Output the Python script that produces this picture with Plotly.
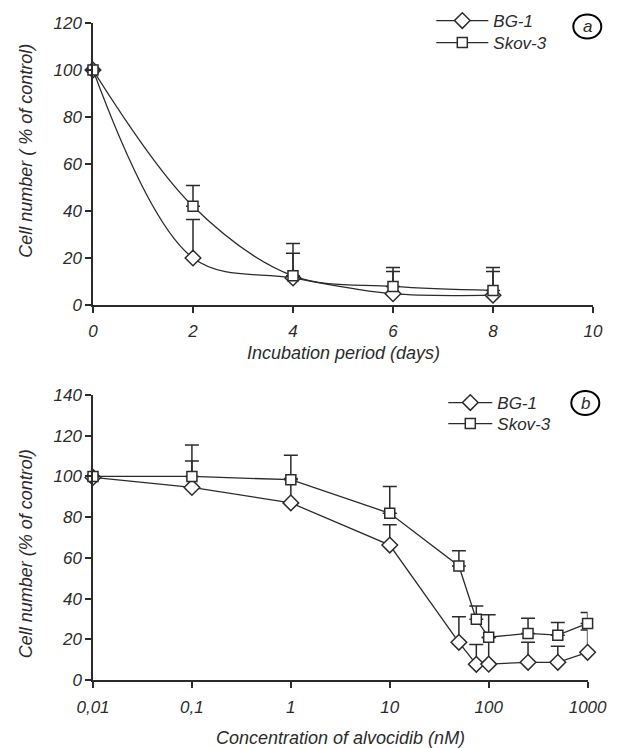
import plotly.graph_objects as go

# ---- data: panel a (incubation period) ----
days = [0, 2, 4, 6, 8]
bg1_a = [100, 20, 11.5, 4.8, 4.2]
bg1_a_err = [0, 16.4, 10.5, 9.5, 10.1]
skov_a = [100, 42, 12.4, 7.9, 6.2]
skov_a_err = [0, 8.8, 13.8, 8.1, 9.8]

# ---- data: panel b (concentration) ----
conc = [0.01, 0.1, 1, 10, 50, 75, 100, 250, 500, 1000]
bg1_b = [99.5, 94.6, 87, 66.3, 18.5, 7.7, 7.8, 8.7, 8.7, 13.6]
bg1_b_err = [0, 13, 12, 10, 12.6, 9.7, 13, 9.8, 7.9, 11]
skov_b = [100, 100, 98.4, 81.9, 56, 29.8, 21, 22.9, 22, 27.8]
skov_b_err = [0, 15.4, 12, 13.2, 7.5, 6.6, 11.1, 7.4, 6.3, 5.4]

xa_ticks = [0, 2, 4, 6, 8, 10]
ya_ticks = [0, 20, 40, 60, 80, 100, 120]
xb_ticks = [0.01, 0.1, 1, 10, 100, 1000]
xb_labels = ["0,01", "0,1", "1", "10", "100", "1000"]
yb_ticks = [0, 20, 40, 60, 80, 100, 120, 140]

titles = {
    "xa": "Incubation period (days)",
    "ya": "Cell number ( % of control)",
    "xb": "Concentration of alvocidib (nM)",
    "yb": "Cell number (% of control)",
}

W, H = 619, 748
L, R, T, B = 92.7, 26.3, 23, 68          # plot-area margins in px
PW, PH = W - L - R, H - T - B

def px(xp):
    return (xp - L) / PW

def py(yp):
    return (H - B - yp) / PH

FONT = "Liberation Sans, Arial, sans-serif"
INK = "#2b2b2b"
tf = dict(family=FONT, size=17, color=INK, style="italic")
ttl = dict(family=FONT, size=18, color=INK, style="italic")

fig = go.Figure()

def add_series(x, y, err, name, symbol, size, xaxis, yaxis, legend, shape):
    fig.add_trace(go.Scatter(
        x=x, y=y, name=name, mode="lines+markers",
        line=dict(color=INK, width=1.3, shape=shape, smoothing=1.0),
        marker=dict(symbol=symbol, size=size, color="white",
                    line=dict(color=INK, width=1.5)),
        error_y=dict(type="data", array=err, arrayminus=[0] * len(err),
                     symmetric=False, color=INK, thickness=1.5, width=7),
        xaxis=xaxis, yaxis=yaxis, legend=legend, cliponaxis=False,
    ))

add_series(days, bg1_a, bg1_a_err, "BG-1", "diamond", 12, "x", "y", "legend", "spline")
add_series(days, skov_a, skov_a_err, "Skov-3", "square", 10, "x", "y", "legend2", "spline")
add_series(conc, bg1_b, bg1_b_err, "BG-1", "diamond", 12, "x2", "y2", "legend3", "linear")
add_series(conc, skov_b, skov_b_err, "Skov-3", "square", 10, "x2", "y2", "legend4", "linear")

axis_common = dict(showline=True, linecolor=INK, linewidth=1.5, ticks="outside",
                   ticklen=6, tickwidth=1.5, tickcolor=INK, showgrid=False,
                   zeroline=False, tickfont=tf, automargin=False)

def leg(xp, yp, iw):
    return dict(x=px(xp), y=py(yp), xanchor="left", yanchor="top",
                bgcolor="rgba(0,0,0,0)", font=tf, itemwidth=iw)

fig.update_layout(
    width=W, height=H,
    margin=dict(l=L, r=R, t=T, b=B, autoexpand=False),
    paper_bgcolor="white", plot_bgcolor="white",
    font=tf,
    xaxis=dict(domain=[0, 1], anchor="y", range=[0, 10],
               tickvals=xa_ticks, ticklabelstandoff=4, **axis_common),
    yaxis=dict(domain=[py(305), 1], anchor="x", range=[0, 120],
               tickvals=ya_ticks, ticklabelstandoff=0, **axis_common),
    xaxis2=dict(domain=[0, px(587.3)], anchor="y2", type="log", range=[-2, 3],
                tickvals=xb_ticks, ticktext=xb_labels, ticklabelstandoff=5,
                **axis_common),
    yaxis2=dict(domain=[0, py(395)], anchor="x2", range=[0, 140],
                tickvals=yb_ticks, ticklabelstandoff=0, **axis_common),
    legend=leg(431, 3, 52),
    legend2=leg(431, 25, 52),
    legend3=leg(443, 385, 44),
    legend4=leg(443, 406, 44),
    showlegend=True,
)

# axis titles placed as text
for key, cx, cy, ang in [("xa", 342.7, 353, 0), ("xb", 340.5, 738, 0),
                         ("ya", 26, 150.5, -90), ("yb", 26, 554, -90)]:
    fig.add_annotation(x=px(cx), y=py(cy), xref="paper", yref="paper",
                       xanchor="center", yanchor="middle", textangle=ang,
                       text=titles[key], showarrow=False, font=ttl)

# circled panel labels
for cx, cy, lab in [(587, 26.5, "a"), (585, 403, "b")]:
    rx, ry = 14, 12
    fig.add_shape(type="circle", xref="paper", yref="paper",
                  x0=px(cx - rx), x1=px(cx + rx), y0=py(cy + ry), y1=py(cy - ry),
                  line=dict(color="black", width=2))
    fig.add_annotation(x=px(cx), y=py(cy), xref="paper", yref="paper",
                       xanchor="center", yanchor="middle",
                       text=lab, showarrow=False, font=tf)

fig.write_html("out.html", config={"displayModeBar": False},
               post_script="document.body.style.margin='0';")
